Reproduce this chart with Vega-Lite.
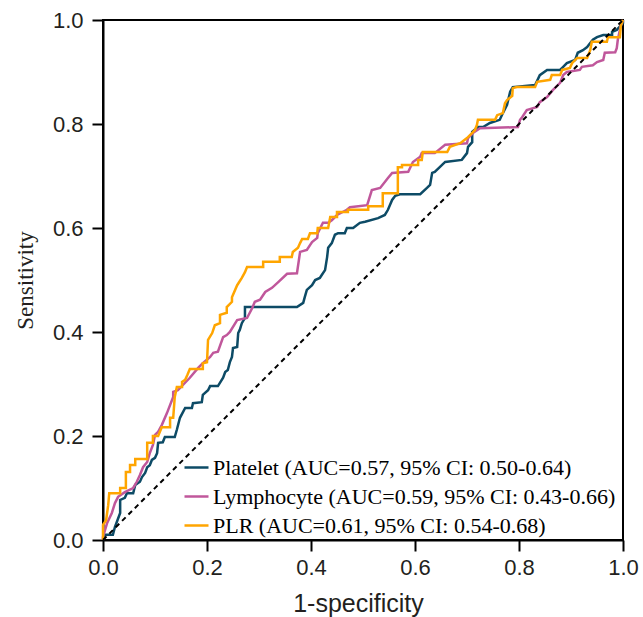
{
  "$schema": "https://vega.github.io/schema/vega-lite/v6.json",
  "width": 520,
  "height": 520,
  "autosize": "none",
  "padding": {"left": 103, "top": 20, "right": 20, "bottom": 77},
  "background": "white",
  "config": {
    "view": {"stroke": "black", "strokeWidth": 2},
    "axis": {
      "grid": false,
      "domainColor": "black",
      "domainWidth": 2,
      "tickColor": "black",
      "tickWidth": 2,
      "tickSize": 11,
      "labelFlush": false,
      "labelFont": "Liberation Sans",
      "labelFontSize": 22,
      "labelColor": "#231f20",
      "titleColor": "#231f20"
    }
  },
  "data": {
    "values": [
      {"s":"Platelet","x":0,"y":0},{"s":"Platelet","x":0.004,"y":0.010},{"s":"Platelet","x":0.019,"y":0.010},{"s":"Platelet","x":0.023,"y":0.025},{"s":"Platelet","x":0.033,"y":0.052},{"s":"Platelet","x":0.033,"y":0.077},{"s":"Platelet","x":0.042,"y":0.081},{"s":"Platelet","x":0.046,"y":0.090},{"s":"Platelet","x":0.058,"y":0.090},{"s":"Platelet","x":0.062,"y":0.106},{"s":"Platelet","x":0.071,"y":0.112},{"s":"Platelet","x":0.075,"y":0.121},{"s":"Platelet","x":0.081,"y":0.129},{"s":"Platelet","x":0.085,"y":0.140},{"s":"Platelet","x":0.090,"y":0.144},{"s":"Platelet","x":0.094,"y":0.154},{"s":"Platelet","x":0.100,"y":0.158},{"s":"Platelet","x":0.104,"y":0.167},{"s":"Platelet","x":0.106,"y":0.187},{"s":"Platelet","x":0.115,"y":0.188},{"s":"Platelet","x":0.119,"y":0.198},{"s":"Platelet","x":0.138,"y":0.198},{"s":"Platelet","x":0.142,"y":0.212},{"s":"Platelet","x":0.148,"y":0.235},{"s":"Platelet","x":0.158,"y":0.254},{"s":"Platelet","x":0.171,"y":0.254},{"s":"Platelet","x":0.173,"y":0.263},{"s":"Platelet","x":0.190,"y":0.265},{"s":"Platelet","x":0.192,"y":0.279},{"s":"Platelet","x":0.202,"y":0.288},{"s":"Platelet","x":0.206,"y":0.296},{"s":"Platelet","x":0.221,"y":0.296},{"s":"Platelet","x":0.231,"y":0.312},{"s":"Platelet","x":0.235,"y":0.323},{"s":"Platelet","x":0.240,"y":0.327},{"s":"Platelet","x":0.244,"y":0.342},{"s":"Platelet","x":0.248,"y":0.352},{"s":"Platelet","x":0.250,"y":0.369},{"s":"Platelet","x":0.258,"y":0.371},{"s":"Platelet","x":0.260,"y":0.398},{"s":"Platelet","x":0.263,"y":0.404},{"s":"Platelet","x":0.267,"y":0.417},{"s":"Platelet","x":0.273,"y":0.427},{"s":"Platelet","x":0.273,"y":0.448},{"s":"Platelet","x":0.373,"y":0.448},{"s":"Platelet","x":0.385,"y":0.456},{"s":"Platelet","x":0.388,"y":0.467},{"s":"Platelet","x":0.392,"y":0.481},{"s":"Platelet","x":0.402,"y":0.490},{"s":"Platelet","x":0.408,"y":0.500},{"s":"Platelet","x":0.417,"y":0.504},{"s":"Platelet","x":0.421,"y":0.510},{"s":"Platelet","x":0.427,"y":0.519},{"s":"Platelet","x":0.431,"y":0.544},{"s":"Platelet","x":0.433,"y":0.562},{"s":"Platelet","x":0.440,"y":0.571},{"s":"Platelet","x":0.446,"y":0.587},{"s":"Platelet","x":0.452,"y":0.590},{"s":"Platelet","x":0.465,"y":0.590},{"s":"Platelet","x":0.469,"y":0.600},{"s":"Platelet","x":0.481,"y":0.600},{"s":"Platelet","x":0.494,"y":0.610},{"s":"Platelet","x":0.504,"y":0.612},{"s":"Platelet","x":0.529,"y":0.619},{"s":"Platelet","x":0.542,"y":0.625},{"s":"Platelet","x":0.548,"y":0.635},{"s":"Platelet","x":0.556,"y":0.654},{"s":"Platelet","x":0.562,"y":0.662},{"s":"Platelet","x":0.571,"y":0.665},{"s":"Platelet","x":0.610,"y":0.665},{"s":"Platelet","x":0.623,"y":0.677},{"s":"Platelet","x":0.629,"y":0.683},{"s":"Platelet","x":0.633,"y":0.706},{"s":"Platelet","x":0.638,"y":0.708},{"s":"Platelet","x":0.658,"y":0.727},{"s":"Platelet","x":0.690,"y":0.731},{"s":"Platelet","x":0.700,"y":0.744},{"s":"Platelet","x":0.702,"y":0.756},{"s":"Platelet","x":0.710,"y":0.765},{"s":"Platelet","x":0.710,"y":0.785},{"s":"Platelet","x":0.721,"y":0.794},{"s":"Platelet","x":0.731,"y":0.794},{"s":"Platelet","x":0.744,"y":0.802},{"s":"Platelet","x":0.763,"y":0.808},{"s":"Platelet","x":0.769,"y":0.821},{"s":"Platelet","x":0.777,"y":0.837},{"s":"Platelet","x":0.783,"y":0.862},{"s":"Platelet","x":0.788,"y":0.871},{"s":"Platelet","x":0.831,"y":0.875},{"s":"Platelet","x":0.840,"y":0.894},{"s":"Platelet","x":0.854,"y":0.904},{"s":"Platelet","x":0.879,"y":0.904},{"s":"Platelet","x":0.885,"y":0.910},{"s":"Platelet","x":0.892,"y":0.917},{"s":"Platelet","x":0.908,"y":0.923},{"s":"Platelet","x":0.913,"y":0.937},{"s":"Platelet","x":0.923,"y":0.942},{"s":"Platelet","x":0.931,"y":0.948},{"s":"Platelet","x":0.942,"y":0.962},{"s":"Platelet","x":0.950,"y":0.967},{"s":"Platelet","x":0.962,"y":0.971},{"s":"Platelet","x":0.979,"y":0.971},{"s":"Platelet","x":0.979,"y":0.977},{"s":"Platelet","x":0.988,"y":0.981},{"s":"Platelet","x":1,"y":0.994},{"s":"Platelet","x":1,"y":1},

      {"s":"Lymphocyte","x":0,"y":0},{"s":"Lymphocyte","x":0,"y":0.006},{"s":"Lymphocyte","x":0.008,"y":0.033},{"s":"Lymphocyte","x":0.017,"y":0.052},{"s":"Lymphocyte","x":0.023,"y":0.071},{"s":"Lymphocyte","x":0.029,"y":0.083},{"s":"Lymphocyte","x":0.042,"y":0.092},{"s":"Lymphocyte","x":0.058,"y":0.100},{"s":"Lymphocyte","x":0.065,"y":0.112},{"s":"Lymphocyte","x":0.071,"y":0.125},{"s":"Lymphocyte","x":0.077,"y":0.140},{"s":"Lymphocyte","x":0.085,"y":0.150},{"s":"Lymphocyte","x":0.090,"y":0.167},{"s":"Lymphocyte","x":0.096,"y":0.183},{"s":"Lymphocyte","x":0.100,"y":0.202},{"s":"Lymphocyte","x":0.106,"y":0.208},{"s":"Lymphocyte","x":0.113,"y":0.221},{"s":"Lymphocyte","x":0.123,"y":0.244},{"s":"Lymphocyte","x":0.135,"y":0.275},{"s":"Lymphocyte","x":0.135,"y":0.285},{"s":"Lymphocyte","x":0.144,"y":0.288},{"s":"Lymphocyte","x":0.167,"y":0.312},{"s":"Lymphocyte","x":0.183,"y":0.331},{"s":"Lymphocyte","x":0.192,"y":0.340},{"s":"Lymphocyte","x":0.206,"y":0.352},{"s":"Lymphocyte","x":0.212,"y":0.360},{"s":"Lymphocyte","x":0.221,"y":0.362},{"s":"Lymphocyte","x":0.231,"y":0.390},{"s":"Lymphocyte","x":0.238,"y":0.394},{"s":"Lymphocyte","x":0.244,"y":0.400},{"s":"Lymphocyte","x":0.258,"y":0.423},{"s":"Lymphocyte","x":0.277,"y":0.427},{"s":"Lymphocyte","x":0.287,"y":0.446},{"s":"Lymphocyte","x":0.292,"y":0.458},{"s":"Lymphocyte","x":0.302,"y":0.462},{"s":"Lymphocyte","x":0.312,"y":0.477},{"s":"Lymphocyte","x":0.325,"y":0.485},{"s":"Lymphocyte","x":0.337,"y":0.496},{"s":"Lymphocyte","x":0.354,"y":0.512},{"s":"Lymphocyte","x":0.373,"y":0.513},{"s":"Lymphocyte","x":0.379,"y":0.554},{"s":"Lymphocyte","x":0.392,"y":0.558},{"s":"Lymphocyte","x":0.402,"y":0.573},{"s":"Lymphocyte","x":0.412,"y":0.581},{"s":"Lymphocyte","x":0.413,"y":0.590},{"s":"Lymphocyte","x":0.423,"y":0.610},{"s":"Lymphocyte","x":0.433,"y":0.610},{"s":"Lymphocyte","x":0.440,"y":0.615},{"s":"Lymphocyte","x":0.450,"y":0.625},{"s":"Lymphocyte","x":0.469,"y":0.635},{"s":"Lymphocyte","x":0.475,"y":0.640},{"s":"Lymphocyte","x":0.508,"y":0.644},{"s":"Lymphocyte","x":0.517,"y":0.673},{"s":"Lymphocyte","x":0.533,"y":0.677},{"s":"Lymphocyte","x":0.548,"y":0.696},{"s":"Lymphocyte","x":0.556,"y":0.706},{"s":"Lymphocyte","x":0.587,"y":0.708},{"s":"Lymphocyte","x":0.596,"y":0.727},{"s":"Lymphocyte","x":0.610,"y":0.737},{"s":"Lymphocyte","x":0.613,"y":0.744},{"s":"Lymphocyte","x":0.638,"y":0.744},{"s":"Lymphocyte","x":0.658,"y":0.760},{"s":"Lymphocyte","x":0.700,"y":0.763},{"s":"Lymphocyte","x":0.702,"y":0.773},{"s":"Lymphocyte","x":0.712,"y":0.783},{"s":"Lymphocyte","x":0.725,"y":0.792},{"s":"Lymphocyte","x":0.798,"y":0.794},{"s":"Lymphocyte","x":0.802,"y":0.808},{"s":"Lymphocyte","x":0.806,"y":0.813},{"s":"Lymphocyte","x":0.815,"y":0.827},{"s":"Lymphocyte","x":0.835,"y":0.833},{"s":"Lymphocyte","x":0.840,"y":0.842},{"s":"Lymphocyte","x":0.854,"y":0.852},{"s":"Lymphocyte","x":0.865,"y":0.865},{"s":"Lymphocyte","x":0.879,"y":0.879},{"s":"Lymphocyte","x":0.885,"y":0.894},{"s":"Lymphocyte","x":0.892,"y":0.900},{"s":"Lymphocyte","x":0.917,"y":0.904},{"s":"Lymphocyte","x":0.921,"y":0.910},{"s":"Lymphocyte","x":0.942,"y":0.913},{"s":"Lymphocyte","x":0.950,"y":0.919},{"s":"Lymphocyte","x":0.962,"y":0.923},{"s":"Lymphocyte","x":0.965,"y":0.937},{"s":"Lymphocyte","x":0.985,"y":0.938},{"s":"Lymphocyte","x":0.988,"y":0.946},{"s":"Lymphocyte","x":0.990,"y":0.962},{"s":"Lymphocyte","x":0.996,"y":0.990},{"s":"Lymphocyte","x":1,"y":1},

      {"s":"PLR","x":0,"y":0},{"s":"PLR","x":0,"y":0.029},{"s":"PLR","x":0.006,"y":0.038},{"s":"PLR","x":0.010,"y":0.067},{"s":"PLR","x":0.012,"y":0.090},{"s":"PLR","x":0.033,"y":0.090},{"s":"PLR","x":0.033,"y":0.100},{"s":"PLR","x":0.044,"y":0.100},{"s":"PLR","x":0.044,"y":0.131},{"s":"PLR","x":0.052,"y":0.131},{"s":"PLR","x":0.052,"y":0.144},{"s":"PLR","x":0.062,"y":0.144},{"s":"PLR","x":0.062,"y":0.156},{"s":"PLR","x":0.085,"y":0.156},{"s":"PLR","x":0.085,"y":0.187},{"s":"PLR","x":0.096,"y":0.187},{"s":"PLR","x":0.096,"y":0.200},{"s":"PLR","x":0.106,"y":0.200},{"s":"PLR","x":0.113,"y":0.217},{"s":"PLR","x":0.129,"y":0.217},{"s":"PLR","x":0.129,"y":0.235},{"s":"PLR","x":0.135,"y":0.235},{"s":"PLR","x":0.138,"y":0.275},{"s":"PLR","x":0.142,"y":0.294},{"s":"PLR","x":0.152,"y":0.294},{"s":"PLR","x":0.152,"y":0.304},{"s":"PLR","x":0.158,"y":0.308},{"s":"PLR","x":0.162,"y":0.317},{"s":"PLR","x":0.167,"y":0.329},{"s":"PLR","x":0.192,"y":0.329},{"s":"PLR","x":0.192,"y":0.340},{"s":"PLR","x":0.200,"y":0.342},{"s":"PLR","x":0.202,"y":0.385},{"s":"PLR","x":0.210,"y":0.398},{"s":"PLR","x":0.215,"y":0.413},{"s":"PLR","x":0.225,"y":0.417},{"s":"PLR","x":0.225,"y":0.433},{"s":"PLR","x":0.238,"y":0.437},{"s":"PLR","x":0.238,"y":0.448},{"s":"PLR","x":0.248,"y":0.458},{"s":"PLR","x":0.248,"y":0.467},{"s":"PLR","x":0.258,"y":0.490},{"s":"PLR","x":0.267,"y":0.504},{"s":"PLR","x":0.273,"y":0.515},{"s":"PLR","x":0.277,"y":0.525},{"s":"PLR","x":0.308,"y":0.525},{"s":"PLR","x":0.308,"y":0.535},{"s":"PLR","x":0.340,"y":0.535},{"s":"PLR","x":0.340,"y":0.544},{"s":"PLR","x":0.363,"y":0.544},{"s":"PLR","x":0.365,"y":0.554},{"s":"PLR","x":0.375,"y":0.562},{"s":"PLR","x":0.379,"y":0.571},{"s":"PLR","x":0.383,"y":0.579},{"s":"PLR","x":0.394,"y":0.579},{"s":"PLR","x":0.398,"y":0.590},{"s":"PLR","x":0.412,"y":0.590},{"s":"PLR","x":0.413,"y":0.600},{"s":"PLR","x":0.433,"y":0.600},{"s":"PLR","x":0.437,"y":0.621},{"s":"PLR","x":0.450,"y":0.621},{"s":"PLR","x":0.450,"y":0.631},{"s":"PLR","x":0.471,"y":0.631},{"s":"PLR","x":0.471,"y":0.635},{"s":"PLR","x":0.510,"y":0.635},{"s":"PLR","x":0.510,"y":0.642},{"s":"PLR","x":0.538,"y":0.642},{"s":"PLR","x":0.538,"y":0.667},{"s":"PLR","x":0.567,"y":0.667},{"s":"PLR","x":0.567,"y":0.717},{"s":"PLR","x":0.575,"y":0.717},{"s":"PLR","x":0.575,"y":0.721},{"s":"PLR","x":0.606,"y":0.721},{"s":"PLR","x":0.606,"y":0.731},{"s":"PLR","x":0.613,"y":0.731},{"s":"PLR","x":0.615,"y":0.746},{"s":"PLR","x":0.662,"y":0.746},{"s":"PLR","x":0.667,"y":0.756},{"s":"PLR","x":0.687,"y":0.763},{"s":"PLR","x":0.700,"y":0.773},{"s":"PLR","x":0.710,"y":0.783},{"s":"PLR","x":0.715,"y":0.788},{"s":"PLR","x":0.719,"y":0.798},{"s":"PLR","x":0.721,"y":0.808},{"s":"PLR","x":0.754,"y":0.808},{"s":"PLR","x":0.758,"y":0.817},{"s":"PLR","x":0.769,"y":0.821},{"s":"PLR","x":0.773,"y":0.840},{"s":"PLR","x":0.777,"y":0.846},{"s":"PLR","x":0.787,"y":0.854},{"s":"PLR","x":0.788,"y":0.869},{"s":"PLR","x":0.796,"y":0.871},{"s":"PLR","x":0.831,"y":0.871},{"s":"PLR","x":0.835,"y":0.881},{"s":"PLR","x":0.860,"y":0.885},{"s":"PLR","x":0.863,"y":0.894},{"s":"PLR","x":0.879,"y":0.894},{"s":"PLR","x":0.883,"y":0.904},{"s":"PLR","x":0.898,"y":0.908},{"s":"PLR","x":0.902,"y":0.917},{"s":"PLR","x":0.912,"y":0.927},{"s":"PLR","x":0.931,"y":0.927},{"s":"PLR","x":0.937,"y":0.942},{"s":"PLR","x":0.940,"y":0.958},{"s":"PLR","x":0.969,"y":0.958},{"s":"PLR","x":0.971,"y":0.967},{"s":"PLR","x":0.994,"y":0.967},{"s":"PLR","x":0.996,"y":0.990},{"s":"PLR","x":1,"y":1}
    ]
  },
  "layer": [
    {
      "encoding": {
        "x": {"field": "x", "type": "quantitative", "scale": {"domain": [0, 1], "nice": false, "zero": false},
              "axis": {"values": [0, 0.2, 0.4, 0.6, 0.8, 1], "format": ".1f", "title": "1-specificity",
                       "labelPadding": 6, "titleFont": "Liberation Sans", "titleFontSize": 25, "titleFontWeight": "normal",
                       "titleX": 255, "titleY": 63, "titleBaseline": "middle", "titleAlign": "center"}},
        "y": {"field": "y", "type": "quantitative", "scale": {"domain": [0, 1], "nice": false, "zero": false},
              "axis": {"values": [0, 0.2, 0.4, 0.6, 0.8, 1], "format": ".1f", "title": "Sensitivity",
                       "labelPadding": 9, "titleFont": "Liberation Serif", "titleFontSize": 23, "titleFontWeight": "normal",
                       "titleX": -78, "titleY": 260, "titleBaseline": "middle", "titleAlign": "center", "titleAngle": -90}},
        "color": {"field": "s", "type": "nominal",
                  "scale": {"domain": ["Platelet", "Lymphocyte", "PLR"], "range": ["#0d4b66", "#c0579b", "#ffa500"]},
                  "legend": {"orient": "none", "legendX": 80, "legendY": 434, "title": null, "padding": 0,
                             "symbolType": "stroke", "symbolSize": 576, "symbolStrokeWidth": 2.5,
                             "labelFont": "Liberation Serif", "labelFontSize": 22, "labelColor": "black",
                             "labelLimit": 600, "labelOffset": 3, "rowPadding": 4,
                             "labelExpr": "datum.label == 'Platelet' ? 'Platelet (AUC=0.57, 95% CI: 0.50-0.64)' : datum.label == 'Lymphocyte' ? 'Lymphocyte (AUC=0.59, 95% CI: 0.43-0.66)' : 'PLR (AUC=0.61, 95% CI: 0.54-0.68)'"}},
        "order": {"value": null}
      },
      "layer": [
        {"transform": [{"filter": "datum.s == 'Platelet'"}], "mark": {"type": "line", "strokeWidth": 2.5}},
        {"transform": [{"filter": "datum.s == 'Lymphocyte'"}], "mark": {"type": "line", "strokeWidth": 2.5}},
        {"transform": [{"filter": "datum.s == 'PLR'"}], "mark": {"type": "line", "strokeWidth": 2.5}}
      ]
    },
    {
      "data": {"values": [{"x": 0, "y": 0}, {"x": 1, "y": 1}]},
      "mark": {"type": "line", "color": "black", "strokeDash": [5, 4], "strokeWidth": 2},
      "encoding": {
        "x": {"field": "x", "type": "quantitative"},
        "y": {"field": "y", "type": "quantitative"}
      }
    }
  ]
}
